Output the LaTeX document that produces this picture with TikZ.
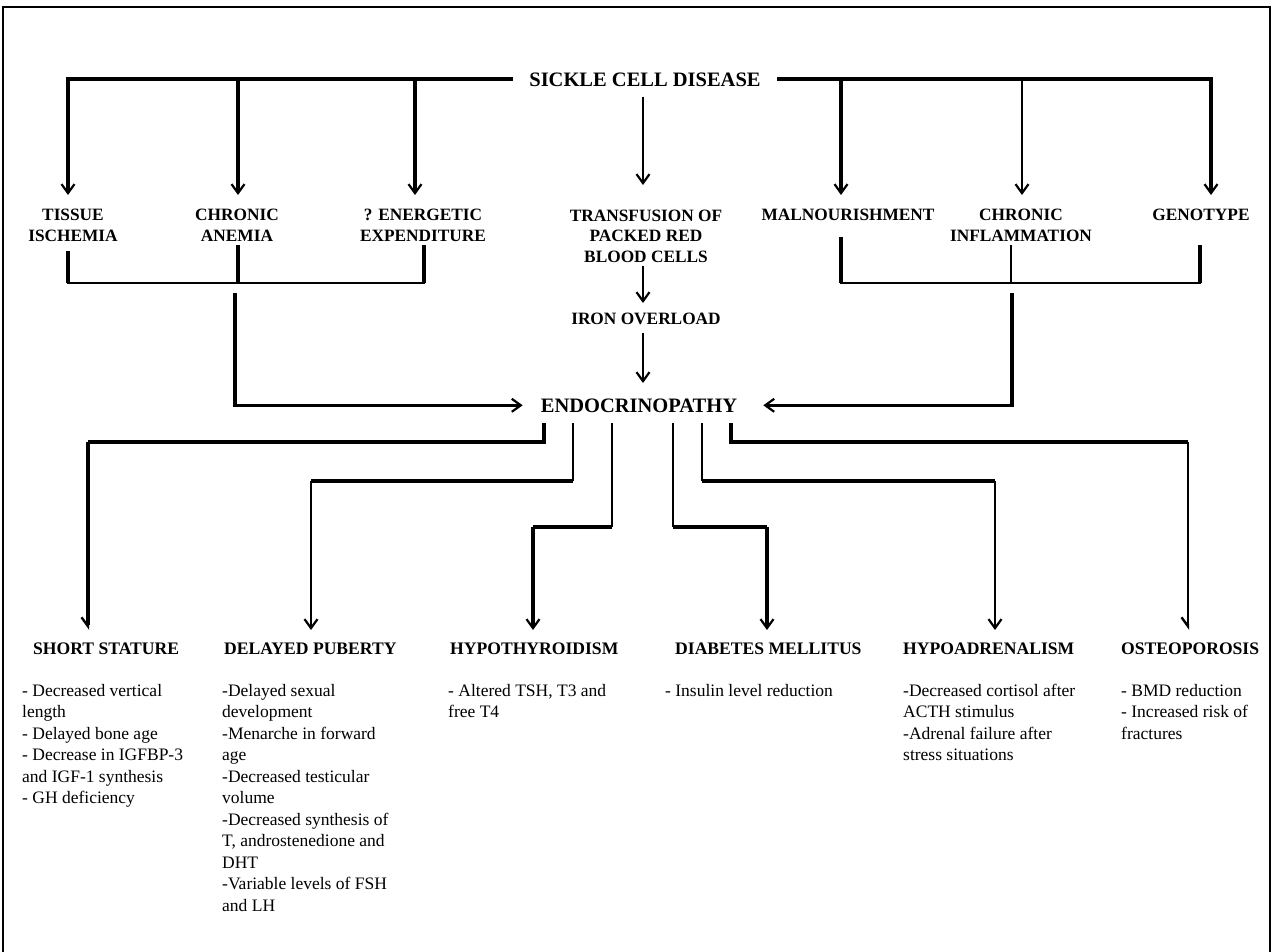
\documentclass[tikz,border=0pt]{standalone}
\usepackage{fontspec}
\setmainfont{Liberation Serif}
\usetikzlibrary{arrows.meta}
\begin{document}
\begin{tikzpicture}[x=1pt,y=-1pt,
  thk/.style={line width=3.3pt},
  mid/.style={line width=2.1pt},
  thn/.style={line width=1.2pt},
  tip/.style={-{Straight Barb[length=9pt,width=13pt,line width=2.2pt]}},
  half/.style={-{Straight Barb[length=9pt,width=13pt,line width=2.4pt,harpoon,swap]}},
  lab/.style={font=\fontsize{17.3}{21}\selectfont\bfseries, align=center, inner sep=0pt, anchor=base},
  big/.style={font=\fontsize{20.5}{24}\selectfont\bfseries, inner sep=0pt, anchor=base},
  head/.style={font=\fontsize{17.6}{21}\selectfont\bfseries, inner sep=0pt, anchor=base west},
  body/.style={font=\fontsize{17.5}{21.5}\selectfont, align=left, inner sep=0pt, anchor=base west},
]
\useasboundingbox (0,0) rectangle (1275,952);
\draw[line width=1.2pt] (3,980) -- (3,7) -- (1270,7) -- (1270,980);

% top level (anchor=base is the baseline of the last line)
\node[big] (scd) at (645,87) {SICKLE CELL DISEASE};
\node[lab] (tis) at (73,242) {TISSUE\\ISCHEMIA};
\node[lab] (chr) at (237,242) {CHRONIC\\ANEMIA};
\node[lab] (ene) at (423,242) {? ENERGETIC\\EXPENDITURE};
\node[lab] (trf) at (646,263) {TRANSFUSION OF\\PACKED RED\\BLOOD CELLS};
\node[lab] (mal) at (848,221) {MALNOURISHMENT};
\node[lab] (inf) at (1021,242) {CHRONIC\\INFLAMMATION};
\node[lab] (gen) at (1201,221) {GENOTYPE};
\node[lab] (iro) at (646,324) {IRON OVERLOAD};
\node[big] (endo) at (639,412) {ENDOCRINOPATHY};

% top bar and arrows
\coordinate (bl) at (513,79);
\coordinate (br) at (777,79);
\coordinate (a1) at (68,195);
\coordinate (a2) at (238,195);
\coordinate (a3) at (415,195);
\coordinate (a5) at (841,195);
\coordinate (a6) at (1022,195);
\coordinate (a7) at (1211,195);
\draw[thk,tip] (bl) -| (a1);
\draw[thk,tip] (a2 |- bl) -- (a2);
\draw[thk,tip] (a3 |- bl) -- (a3);
\draw[thk,tip] (br) -| (a7);
\draw[thk,tip] (a5 |- br) -- (a5);
\draw[thn,tip] (a6 |- br) -- (a6);
\draw[thn,tip] (643,97) -- (643,185);

% center chain
\draw[thn,tip] (643,266) -- (643,303);
\draw[thn,tip] (643,333) -- (643,383);

% left bracket
\draw[thk] (68,251) -- (68,283);
\draw[thk] (238,245) -- (238,283);
\draw[thk] (424,245) -- (424,283);
\draw[line width=1.5pt] (67,283) -- (425,283);
\coordinate (cl) at (235,293);
\draw[thk,tip] (cl) |- ([xshift=-18pt]endo.west);

% right bracket
\draw[thk] (841,237) -- (841,283);
\draw[thn] (1011,245) -- (1011,283);
\draw[thk] (1200,245) -- (1200,283);
\draw[line width=1.5pt] (840,283) -- (1201,283);
\coordinate (cr) at (1012,293);
\draw[thk,tip] (cr) |- ([xshift=26pt]endo.east);

% outputs
\node[head] (ss) at (33,654) {SHORT STATURE};
\node[head] (dp) at (224,654) {DELAYED PUBERTY};
\node[head] (hy) at (450,654) {HYPOTHYROIDISM};
\node[head] (dm) at (675,654) {DIABETES MELLITUS};
\node[head] (ha) at (903,654) {HYPOADRENALISM};
\node[head] (op) at (1121,654) {OSTEOPOROSIS};

\coordinate (e1) at (544,423); \coordinate (k1) at (544,442); \coordinate (h1) at (88,442); \coordinate (t1) at (88,630);
\coordinate (e2) at (573,423); \coordinate (k2) at (573,481); \coordinate (h2) at (311,481); \coordinate (t2) at (311,630);
\coordinate (e3) at (612,423); \coordinate (k3) at (612,527); \coordinate (h3) at (533,527); \coordinate (t3) at (533,630);
\coordinate (e4) at (673,423); \coordinate (k4) at (673,527); \coordinate (h4) at (767,527); \coordinate (t4) at (767,630);
\coordinate (e5) at (702,423); \coordinate (k5) at (702,481); \coordinate (h5) at (995,481); \coordinate (t5) at (995,630);
\coordinate (e6) at (731,423); \coordinate (k6) at (731,442); \coordinate (h6) at (1188,442); \coordinate (t6) at (1188,630);

\draw[thk,line join=miter] (e1) -- (k1) -- (h1);
\draw[thk,half] (h1) -- (t1);
\draw[mid] (e2) -- (k2);
\draw[thk] (k2) -- (h2);
\draw[mid,tip] (h2) -- (t2);
\draw[thn] (e3) -- (k3);
\draw[thk] (k3) -- (h3);
\draw[thk,tip] (h3) -- (t3);
\draw[thn] (e4) -- (k4);
\draw[thk] (k4) -- (h4);
\draw[thk,tip] (h4) -- (t4);
\draw[mid] (e5) -- (k5);
\draw[thk] (k5) -- (h5);
\draw[thn,tip] (h5) -- (t5);
\draw[thk] (e6) -- (k6) -- (h6);
\draw[thn,half] (h6) -- (t6);

% bodies (anchor=base is the baseline of the last line; first line at 696, step 21.5)
\node[body] (b1) at (22,803.5) {- Decreased vertical\\length\\- Delayed bone age\\- Decrease in IGFBP-3\\and IGF-1 synthesis\\- GH deficiency};
\node[body] (b2) at (222,911) {-Delayed sexual\\development\\-Menarche in forward\\age\\-Decreased testicular\\volume\\-Decreased synthesis of\\T, androstenedione and\\DHT\\-Variable levels of FSH\\and LH};
\node[body] (b3) at (448,717.5) {- Altered TSH, T3 and\\free T4};
\node[body] (b4) at (665,696) {- Insulin level reduction};
\node[body] (b5) at (903,760.5) {-Decreased cortisol after\\ACTH stimulus\\-Adrenal failure after\\stress situations};
\node[body] (b6) at (1121,739) {- BMD reduction\\- Increased risk of\\fractures};
\end{tikzpicture}
\end{document}
